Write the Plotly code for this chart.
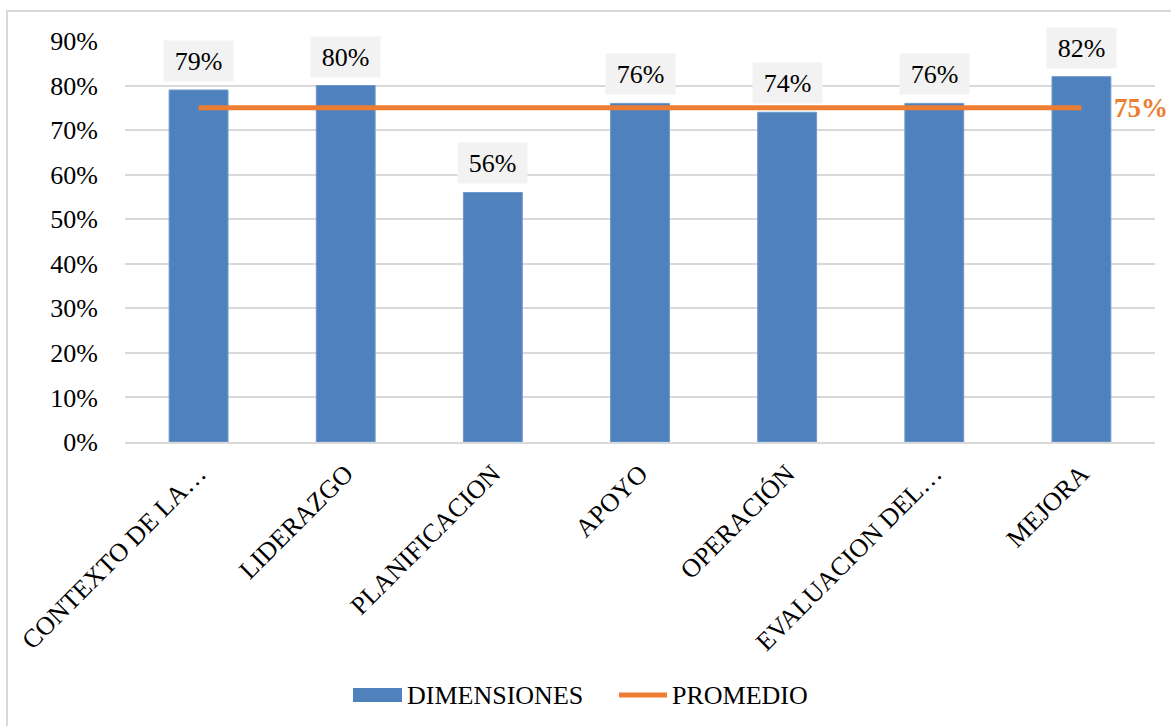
import plotly.graph_objects as go

# Dimension scores (share of compliance) and their overall average
categories = ["CONTEXTO DE LA…", "LIDERAZGO", "PLANIFICACION", "APOYO",
              "OPERACIÓN", "EVALUACION DEL…", "MEJORA"]
dimensiones = [0.79, 0.80, 0.56, 0.76, 0.74, 0.76, 0.82]
promedio_valor = 0.75
promedio = [promedio_valor] * len(categories)
y_ticks = [0, 0.1, 0.2, 0.3, 0.4, 0.5, 0.6, 0.7, 0.8, 0.9]

FONT = "Liberation Serif, Times New Roman, serif"
BLUE = "#4f81bd"
ORANGE = "#ed7d31"
GRID = "#d9d9d9"

# plot area in pixels (used only to place the frame and legend)
W, H = 1171, 726
L, R, T, B = 125, 16, 41, 284
pw, ph = W - L - R, H - T - B


def px_x(px):
    return (px - L) / pw


def px_y(py):
    return (H - B - py) / ph


fig = go.Figure()
fig.add_trace(go.Bar(
    x=categories, y=dimensiones, name="DIMENSIONES",
    marker=dict(color=BLUE, line=dict(color="#6f98cc", width=1)),
    width=0.4, showlegend=False, hoverinfo="skip",
))
fig.add_trace(go.Scatter(
    x=categories, y=promedio, name="PROMEDIO", mode="lines",
    line=dict(color=ORANGE, width=5), showlegend=False, hoverinfo="skip",
))

annotations = []
for cat, val in zip(categories, dimensiones):
    annotations.append(dict(
        x=cat, y=val, xref="x", yref="y", text=f"{round(val * 100)}%",
        showarrow=False, yanchor="bottom", yshift=8,
        width=69, height=40, borderpad=0, bgcolor="#f2f2f2",
        font=dict(family=FONT, size=26, color="#000000"),
    ))

# average value label at the end of the line
annotations.append(dict(
    x=categories[-1], y=promedio_valor, xref="x", yref="y",
    text=f"<b>{round(promedio_valor * 100)}%</b>", showarrow=False,
    xanchor="left", yanchor="middle", xshift=31,
    font=dict(family=FONT, size=27, color=ORANGE),
))

# legend text
annotations.append(dict(
    x=px_x(405), y=px_y(695), xref="paper", yref="paper", text="DIMENSIONES",
    showarrow=False, xanchor="left", yanchor="middle",
    font=dict(family=FONT, size=26, color="#000000"),
))
annotations.append(dict(
    x=px_x(670), y=px_y(695), xref="paper", yref="paper", text="PROMEDIO",
    showarrow=False, xanchor="left", yanchor="middle",
    font=dict(family=FONT, size=26, color="#000000"),
))

shapes = [
    # chart frame
    dict(type="rect", xref="paper", yref="paper",
         x0=px_x(7), x1=px_x(1200), y0=px_y(760), y1=px_y(11),
         line=dict(color=GRID, width=2), fillcolor="rgba(0,0,0,0)", layer="below"),
    # legend keys
    dict(type="rect", xref="paper", yref="paper",
         x0=px_x(353), x1=px_x(402), y0=px_y(702), y1=px_y(688),
         line=dict(width=0), fillcolor=BLUE),
    dict(type="line", xref="paper", yref="paper",
         x0=px_x(619), x1=px_x(667), y0=px_y(695), y1=px_y(695),
         line=dict(color=ORANGE, width=5)),
]

fig.update_layout(
    width=W, height=H,
    margin=dict(l=L, r=R, t=T, b=B, autoexpand=False),
    paper_bgcolor="white", plot_bgcolor="white",
    font=dict(family=FONT, size=26, color="#000000"),
    showlegend=False,
    annotations=annotations, shapes=shapes,
    bargap=0.6,
)
fig.update_xaxes(
    type="category", range=[-0.5, len(categories) - 0.5],
    tickangle=-45, showgrid=False, showline=True,
    linecolor=GRID, linewidth=2, ticks="", ticklabelstandoff=4,
    tickfont=dict(family=FONT, size=26, color="#000000"), automargin=False,
)
fig.update_yaxes(
    range=[0, 0.9], tickvals=y_ticks, tickformat=".0%",
    showgrid=True, gridcolor=GRID, gridwidth=2, zeroline=False,
    showline=False, ticks="", ticklabelstandoff=26,
    tickfont=dict(family=FONT, size=26, color="#000000"), automargin=False,
)

fig.write_html("out.html")
